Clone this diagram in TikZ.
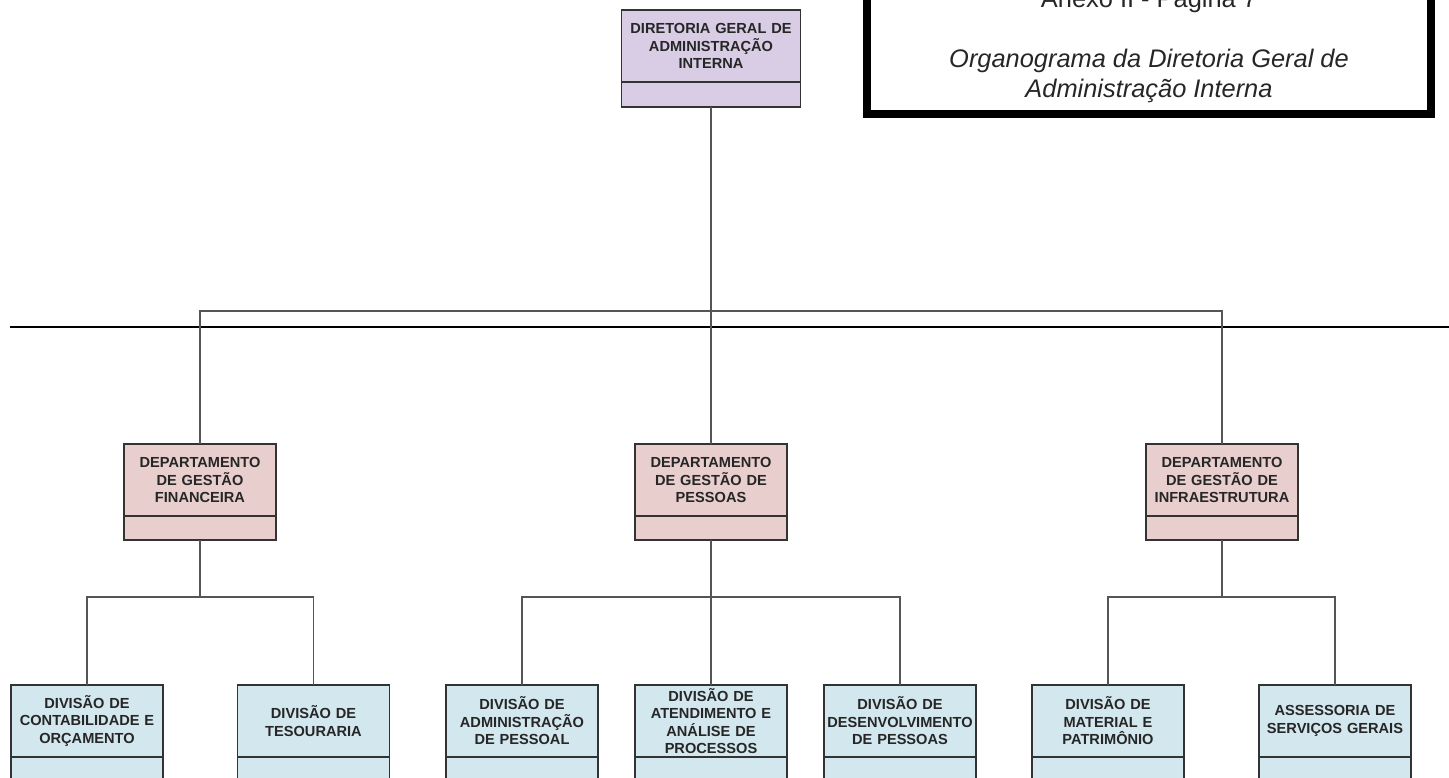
\documentclass[tikz,border=0pt]{standalone}
\usepackage{fontspec}
\setmainfont{Liberation Sans}
\usetikzlibrary{positioning}
\definecolor{topfill}{HTML}{D8CDE4}
\definecolor{deptfill}{HTML}{E9CECE}
\definecolor{divfill}{HTML}{D3E7EE}
\definecolor{boxline}{HTML}{333333}
\definecolor{linkgray}{HTML}{555555}
\tikzset{
  orgbox/.style={draw=boxline, line width=1.4pt, minimum width=152pt, minimum height=72pt,
    text width=150pt, align=center, inner sep=0pt, outer sep=0pt, text=black!85,
    font=\bfseries\fontsize{14.6}{17.5}\selectfont},
  orgfoot/.style={draw=boxline, line width=1.4pt, minimum width=152pt, minimum height=24pt,
    inner sep=0pt, outer sep=0pt},
  link/.style={draw=linkgray, line width=1.8pt},
  titletext/.style={anchor=base, inner sep=0pt, text=black!85, font=\fontsize{25.4}{30}\selectfont}
}
\begin{document}
\begin{tikzpicture}[x=1pt,y=-1pt]
\clip (0,0) rectangle (1449,778);
\draw[line width=7.5pt] (867,-20) rectangle (1431,114);
\node (annex) [titletext] at (1149,8) {Anexo II - Página 7};
\node (capA) [titletext, font=\itshape\fontsize{25.4}{30}\selectfont] at (1149,68) {Organograma da Diretoria Geral de};
\node (capB) [titletext, font=\itshape\fontsize{25.4}{30}\selectfont] at (1149,98) {Administração Interna};
\draw[line width=2pt] (10,327) -- (1449,327);
\node (dgai) [orgbox, fill=topfill, minimum width=179pt, text width=177pt] at (711,46) {DIRETORIA GERAL DE\\ADMINISTRAÇÃO\\INTERNA};
\node (dgai-b) [orgfoot, fill=topfill, minimum width=179pt, minimum height=25pt, below=0pt of dgai] {};
\foreach \name/\x/\txt in {dpf/200/{DEPARTAMENTO\\DE GESTÃO\\FINANCEIRA},
  dgp/711/{DEPARTAMENTO\\DE GESTÃO DE\\PESSOAS},
  dpi/1222/{DEPARTAMENTO\\DE GESTÃO DE\\INFRAESTRUTURA}}
{
  \node (\name) [orgbox, fill=deptfill] at (\x,480) {\txt};
  \node (\name-b) [orgfoot, fill=deptfill, below=0pt of \name] {};
}
\foreach \name/\x/\txt in {dco/87/{DIVISÃO DE\\CONTABILIDADE E\\ORÇAMENTO},
  dte/313.5/{DIVISÃO DE\\TESOURARIA},
  dad/522/{DIVISÃO DE\\ADMINISTRAÇÃO\\DE PESSOAL},
  dap/711/{DIVISÃO DE\\ATENDIMENTO E\\ANÁLISE DE\\PROCESSOS},
  dde/900/{DIVISÃO DE\\DESENVOLVIMENTO\\DE PESSOAS},
  dmp/1108/{DIVISÃO DE\\MATERIAL E\\PATRIMÔNIO},
  asg/1335/{ASSESSORIA DE\\SERVIÇOS GERAIS}}
{
  \node (\name) [orgbox, fill=divfill] at (\x,721) {\txt};
  \node (\name-b) [orgfoot, fill=divfill, below=0pt of \name] {};
}
\coordinate (bus) at (711,311);
\coordinate (busF) at (200,597);
\coordinate (busP) at (711,597);
\coordinate (busI) at (1222,597);
\draw[link] (dgai-b.south) -- (dgp.north);
\draw[link] (dpf.north) |- (bus) -| (dpi.north);
\draw[link] (dpf-b.south) -- (busF);
\draw[link] (dco.north) |- (busF) -| (dte.north);
\draw[link] (dgp-b.south) -- (dap.north);
\draw[link] (dad.north) |- (busP) -| (dde.north);
\draw[link] (dpi-b.south) -- (busI);
\draw[link] (dmp.north) |- (busI) -| (asg.north);
\end{tikzpicture}
\end{document}
